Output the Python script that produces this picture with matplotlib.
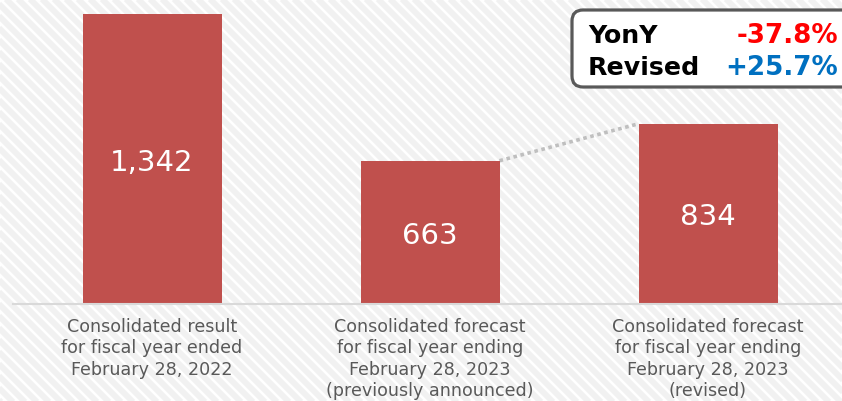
import matplotlib

matplotlib.use("Agg")
import matplotlib.pyplot as plt
from matplotlib.patches import FancyBboxPatch
import numpy as np

# ============================================================
# Data
# ============================================================
categories = [
    "Consolidated result\nfor fiscal year ended\nFebruary 28, 2022",
    "Consolidated forecast\nfor fiscal year ending\nFebruary 28, 2023\n(previously announced)",
    "Consolidated forecast\nfor fiscal year ending\nFebruary 28, 2023\n(revised)",
]
values = [1342, 663, 834]
value_labels = ["1,342", "663", "834"]
change_names = ["YonY", "Revised"]
change_labels = ["-37.8%", "+25.7%"]

BAR_COLOR = "#C0504D"
TEXT_GRAY = "#595959"
W, H = 842, 401


def _pixel_axes(fig, zorder):
    axis = fig.add_axes([0, 0, 1, 1], zorder=zorder)
    axis.set_xlim(0, W)
    axis.set_ylim(H, 0)
    axis.axis("off")
    return axis


fig = plt.figure(figsize=(W / 100, H / 100), dpi=100)
fig.patch.set_facecolor("white")

# background stripes, pixel coordinates
bg = _pixel_axes(fig, 0)
for x0 in np.arange(-H - 20, W + 20, 12):
    bg.plot([x0, x0 + H + 40], [-20, H + 20], color="#f1f1f1", lw=4.3,
            solid_capstyle="butt")

# ============================================================
# Bars
# ============================================================
base_y = 304
px_per_unit = 290 / 1342
ax = fig.add_axes([13 / W, (H - base_y) / H, (W - 13) / W, base_y / H], zorder=1)
ax.patch.set_alpha(0)
positions = np.arange(len(values))
ax.bar(positions, values, width=0.5, color=BAR_COLOR, zorder=2)
ax.set_xlim(-0.5, -0.5 + (W - 13) / 278)
ax.set_ylim(0, base_y / px_per_unit)

for pos, val, lab in zip(positions, values, value_labels):
    ax.annotate(lab, (pos, val / 2), xytext=(0, -2.6), textcoords="offset points",
                ha="center", va="center", color="white", fontsize=21)

# dotted connector between forecasts
ax.plot([positions[1] + 0.25, positions[2] - 0.25], [values[1], values[2]],
        ls=(0, (1, 1)), color="#BFBFBF", lw=2.6, zorder=1)

for side in ["top", "left", "right"]:
    ax.spines[side].set_visible(False)
ax.spines["bottom"].set_color("#D9D9D9")
ax.spines["bottom"].set_linewidth(1.5)
ax.set_yticks([])
ax.set_xticks(positions)
ax.set_xticklabels(categories, color=TEXT_GRAY, fontsize=12.6, linespacing=1.24)
ax.tick_params(axis="x", length=0, pad=10)

# ============================================================
# Change box
# ============================================================
top = _pixel_axes(fig, 3)
top.patch.set_alpha(0)
box = FancyBboxPatch((572, 10), 320, 77, boxstyle="round,pad=0,rounding_size=11",
                     facecolor="white", edgecolor="#595959", lw=2.3)
top.add_patch(box)
for i, (name, lab, col) in enumerate(zip(change_names, change_labels, ["#FF0000", "#0070C0"])):
    y = 43 + 32 * i
    top.text(588, y, name, ha="left", va="baseline", fontsize=18.2,
             fontweight="bold", color="black")
    top.text(838, y, lab, ha="right", va="baseline", fontsize=18.8,
             fontweight="bold", color=col)

fig.savefig("out.png", dpi=100)
